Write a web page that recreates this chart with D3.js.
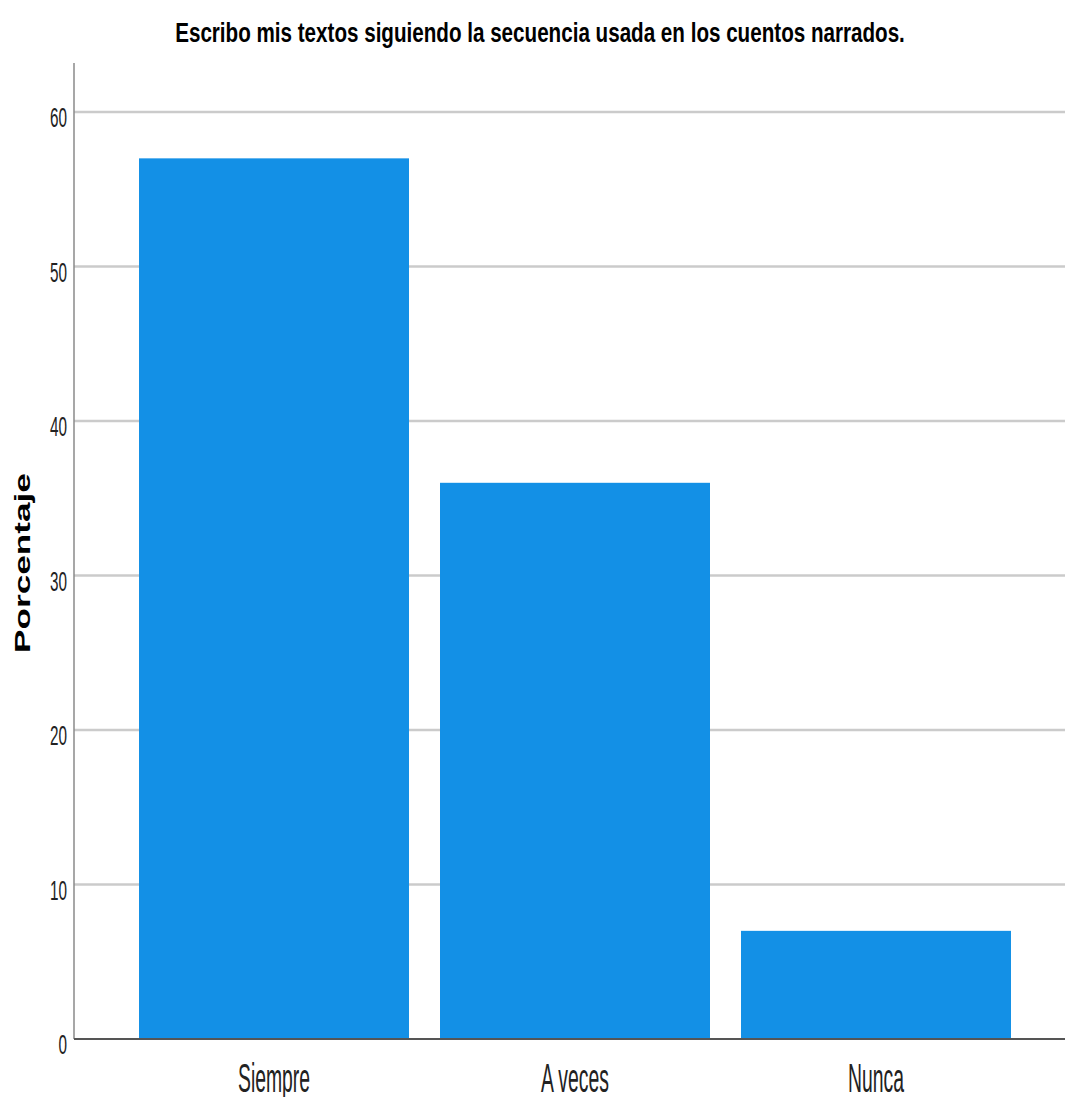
<!DOCTYPE html>
<html><head><meta charset="utf-8">
<script src="https://cdn.jsdelivr.net/npm/d3@7"></script>
<style>html,body{margin:0;padding:0;background:#fff;}svg{display:block;}</style>
</head><body>
<script>
const categories = ["Siempre", "A veces", "Nunca"];
const values = [57, 36, 7];
const yTicks = [0, 10, 20, 30, 40, 50, 60];
const titleText = "Escribo mis textos siguiendo la secuencia usada en los cuentos narrados.";
const yLabel = "Porcentaje";

const W = 1065, H = 1097;
const svg = d3.select("body").append("svg").attr("width", W).attr("height", H);
const axisX = 74, plotRight = 1065, y0px = 1039, yTop = 63;

const y = d3.scaleLinear().domain([0, 60]).range([y0px, 112]);
const x = d3.scaleBand().domain(categories).range([axisX, 1076]).paddingInner(0.103).paddingOuter(0.216);

const font = "'Liberation Sans', Arial, sans-serif";

// gridlines
svg.append("g").selectAll("line").data(yTicks.filter(d => d > 0)).join("line")
  .attr("x1", axisX).attr("x2", plotRight)
  .attr("y1", d => y(d)).attr("y2", d => y(d))
  .attr("stroke", "#cbcbcb").attr("stroke-width", 2.5);

// bars
svg.append("g").selectAll("rect").data(categories).join("rect")
  .attr("x", d => x(d)).attr("width", x.bandwidth())
  .attr("y", (d, i) => y(values[i])).attr("height", (d, i) => y0px - y(values[i]))
  .attr("fill", "#1390e6");

// y axis line
svg.append("line").attr("x1", axisX).attr("x2", axisX).attr("y1", yTop).attr("y2", y0px)
  .attr("stroke", "#8a8a8a").attr("stroke-width", 1.5);
// baseline
svg.append("line").attr("x1", axisX).attr("x2", plotRight).attr("y1", y0px).attr("y2", y0px)
  .attr("stroke", "#555").attr("stroke-width", 2);

// tick labels
const tickG = svg.append("g");
const tl = tickG.selectAll("text").data(yTicks).join("text")
  .text(d => d).attr("font-family", font).attr("font-size", 28).attr("fill", "#222")
  .attr("text-anchor", "end");
const w60 = tl.filter(d => d === 60).node().getComputedTextLength();
const tickScale = 17 / w60;
tl.attr("transform", d => `translate(67,${y(d) + 15}) scale(${tickScale},1)`);

// category labels
const cl = svg.append("g").selectAll("text").data(categories).join("text")
  .text(d => d).attr("font-family", font).attr("font-size", 40).attr("fill", "#222")
  .attr("text-anchor", "middle");
const wN = cl.filter(d => d === "Nunca").node().getComputedTextLength();
const catScale = 56 / wN;
cl.attr("transform", d => `translate(${x(d) + x.bandwidth() / 2},1092) scale(${catScale},1)`);

// title
const t = svg.append("text").text(titleText).attr("font-family", font).attr("font-weight", "bold")
  .attr("font-size", 28).attr("fill", "#000").attr("text-anchor", "middle");
const tw = t.node().getComputedTextLength();
t.attr("transform", `translate(540,42) scale(${730 / tw},1)`);

// y label
const yl = svg.append("text").text(yLabel).attr("font-family", font).attr("font-weight", "bold")
  .attr("font-size", 35).attr("fill", "#000").attr("text-anchor", "middle");
const yw = yl.node().getComputedTextLength();
const ylFs = 35 * 180 / yw;
yl.attr("font-size", ylFs);
yl.attr("transform", `translate(30,563) scale(0.62,1) rotate(-90)`);
</script>
</body></html>
